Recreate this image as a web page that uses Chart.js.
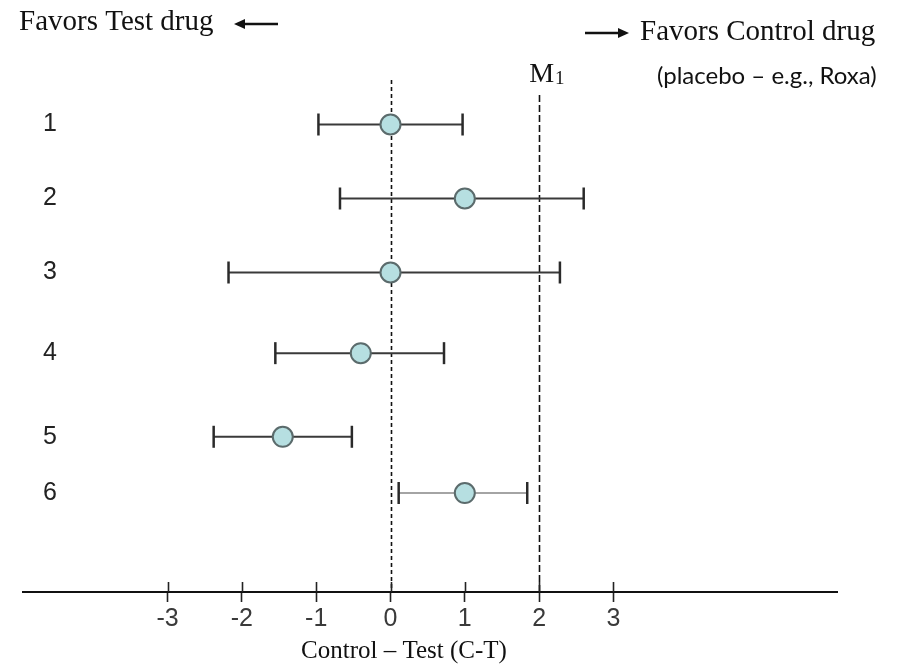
<!DOCTYPE html>
<html>
<head>
<meta charset="utf-8">
<script src="https://cdn.jsdelivr.net/npm/chart.js@4.4.1/dist/chart.umd.min.js"></script>
<style>
  html, body { margin: 0; padding: 0; background: #ffffff; }
  #wrap { width: 906px; height: 666px; }
</style>
</head>
<body>
<div id="wrap"><canvas id="forest" width="906" height="666"></canvas></div>
<script>
// Trials, their row on the vertical axis, point estimates and confidence limits (C - T)
const trialLabels = ['1', '2', '3', '4', '5', '6'];
const trialRow    = [1, 2, 3, 4.09, 5.22, 5.98];
const estimate    = [0, 1, 0, -0.4, -1.45, 1];
const ciLow       = [-0.97, -0.68, -2.18, -1.55, -2.38, 0.11];
const ciHigh      = [0.97, 2.6, 2.28, 0.72, -0.52, 1.84];
const xTickValues = [-3, -2, -1, 0, 1, 2, 3];
const marginM1    = 2;
const noEffect    = 0;

const SERIF = '"Liberation Serif", "Times New Roman", serif';
const SANS  = '"Liberation Sans", Arial, sans-serif';

// one horizontal whisker per trial, capped at both ends
const ciSets = trialLabels.map((lab, i) => ({
  label: 'CI ' + lab,
  data: [{ x: ciLow[i], y: trialRow[i] }, { x: ciHigh[i], y: trialRow[i] }],
  showLine: true,
  borderColor: i === trialLabels.length - 1 ? '#a4a4a4' : '#3a3a3a',
  borderWidth: 2,
  pointStyle: 'line',
  rotation: 90,
  pointRadius: 11,
  pointBorderColor: '#2a2a2a',
  pointBorderWidth: 2.5,
  order: 1
}));

const pointSet = {
  label: 'Estimate',
  data: trialLabels.map((lab, i) => ({ x: estimate[i], y: trialRow[i] })),
  showLine: false,
  pointStyle: 'circle',
  pointRadius: 10,
  pointBackgroundColor: '#b6dfe1',
  pointBorderColor: '#5b6b6c',
  pointBorderWidth: 2,
  order: 0
};

function arrow(ctx, x1, x2, y) {
  // shaft from x1 towards x2, head at x2
  const dir = Math.sign(x2 - x1);
  const head = 11;
  ctx.save();
  ctx.strokeStyle = '#111';
  ctx.fillStyle = '#111';
  ctx.lineWidth = 2.5;
  ctx.beginPath();
  ctx.moveTo(x1, y);
  ctx.lineTo(x2 - dir * head, y);
  ctx.stroke();
  ctx.beginPath();
  ctx.moveTo(x2, y);
  ctx.lineTo(x2 - dir * head, y - 5);
  ctx.lineTo(x2 - dir * head, y + 5);
  ctx.closePath();
  ctx.fill();
  ctx.restore();
}

const decorations = {
  id: 'decorations',
  beforeDatasetsDraw(chart) {
    const { ctx, chartArea, scales: { x } } = chart;
    ctx.save();
    ctx.strokeStyle = '#111';
    ctx.lineWidth = 1.6;
    // line of no difference
    const x0 = Math.round(x.getPixelForValue(noEffect)) + 0.5;
    ctx.setLineDash([4, 3]);
    ctx.beginPath();
    ctx.moveTo(x0, chartArea.top);
    ctx.lineTo(x0, chartArea.bottom);
    ctx.stroke();
    // non-inferiority margin M1
    const xm = Math.round(x.getPixelForValue(marginM1)) + 0.5;
    ctx.setLineDash([7, 3]);
    ctx.beginPath();
    ctx.moveTo(xm, chartArea.top + 15);
    ctx.lineTo(xm, chartArea.bottom);
    ctx.stroke();
    ctx.restore();
  },
  afterDraw(chart) {
    const { ctx, chartArea, scales: { x } } = chart;
    ctx.save();
    // upper half of each axis tick (the lower half is drawn by the scale)
    ctx.strokeStyle = '#222';
    ctx.lineWidth = 1.6;
    x.ticks.forEach(t => {
      const px = Math.round(x.getPixelForValue(t.value)) + 0.5;
      ctx.beginPath();
      ctx.moveTo(px, chartArea.bottom - 10);
      ctx.lineTo(px, chartArea.bottom);
      ctx.stroke();
    });

    ctx.fillStyle = '#111';
    ctx.textBaseline = 'middle';
    // direction labels
    ctx.font = '29px ' + SERIF;
    ctx.textAlign = 'left';
    ctx.fillText('Favors Test drug', 19, 22);
    arrow(ctx, 278, 234, 24);
    arrow(ctx, 585, 629, 33);
    ctx.fillText('Favors Control drug', 640, 32);

    // margin label
    const xm = x.getPixelForValue(marginM1);
    ctx.font = '28px ' + SERIF;
    ctx.textAlign = 'right';
    ctx.fillText('M', xm + 15, 75);
    ctx.font = '19px ' + SERIF;
    ctx.textAlign = 'left';
    ctx.fillText('1', xm + 16, 79);

    ctx.font = '24px Lato, "Open Sans", sans-serif';
    ctx.textAlign = 'left';
    ctx.fillText('(placebo \u2013 e.g., Roxa)', 657, 76);

    // axis title
    ctx.font = '25px ' + SERIF;
    ctx.textAlign = 'center';
    ctx.fillText('Control \u2013 Test (C-T)', 404, 651);
    ctx.restore();
  }
};

new Chart(document.getElementById('forest'), {
  type: 'scatter',
  data: { datasets: [pointSet, ...ciSets] },
  options: {
    responsive: false,
    animation: false,
    layout: { padding: { left: 23, right: 69, top: 80, bottom: 0 } },
    plugins: { legend: { display: false }, tooltip: { enabled: false } },
    scales: {
      x: {
        type: 'linear',
        position: 'bottom',
        min: -4.946,
        max: 6.009,
        afterBuildTicks: s => { s.ticks = xTickValues.map(v => ({ value: v })); },
        afterFit: s => { s.height = 74; },
        border: { display: true, color: '#111', width: 2 },
        grid: { display: true, drawOnChartArea: false, drawTicks: true, tickLength: 10, tickWidth: 1.6, tickColor: '#222' },
        ticks: {
          autoSkip: false,
          maxRotation: 0,
          padding: 2,
          color: '#3a3a3a',
          font: { family: SANS, size: 25 },
          callback: v => String(v)
        }
      },
      y: {
        type: 'linear',
        position: 'left',
        reverse: true,
        min: 0.3986,
        max: 7.3176,
        afterBuildTicks: s => { s.ticks = trialRow.map(v => ({ value: v })); },
        afterFit: s => { s.width = 0; },
        border: { display: false },
        grid: { display: false },
        ticks: {
          mirror: true,
          padding: 20,
          autoSkip: false,
          color: '#222',
          font: { family: SANS, size: 25 },
          callback: (v, i) => trialLabels[i]
        }
      }
    }
  },
  plugins: [decorations]
});
</script>
</body>
</html>
